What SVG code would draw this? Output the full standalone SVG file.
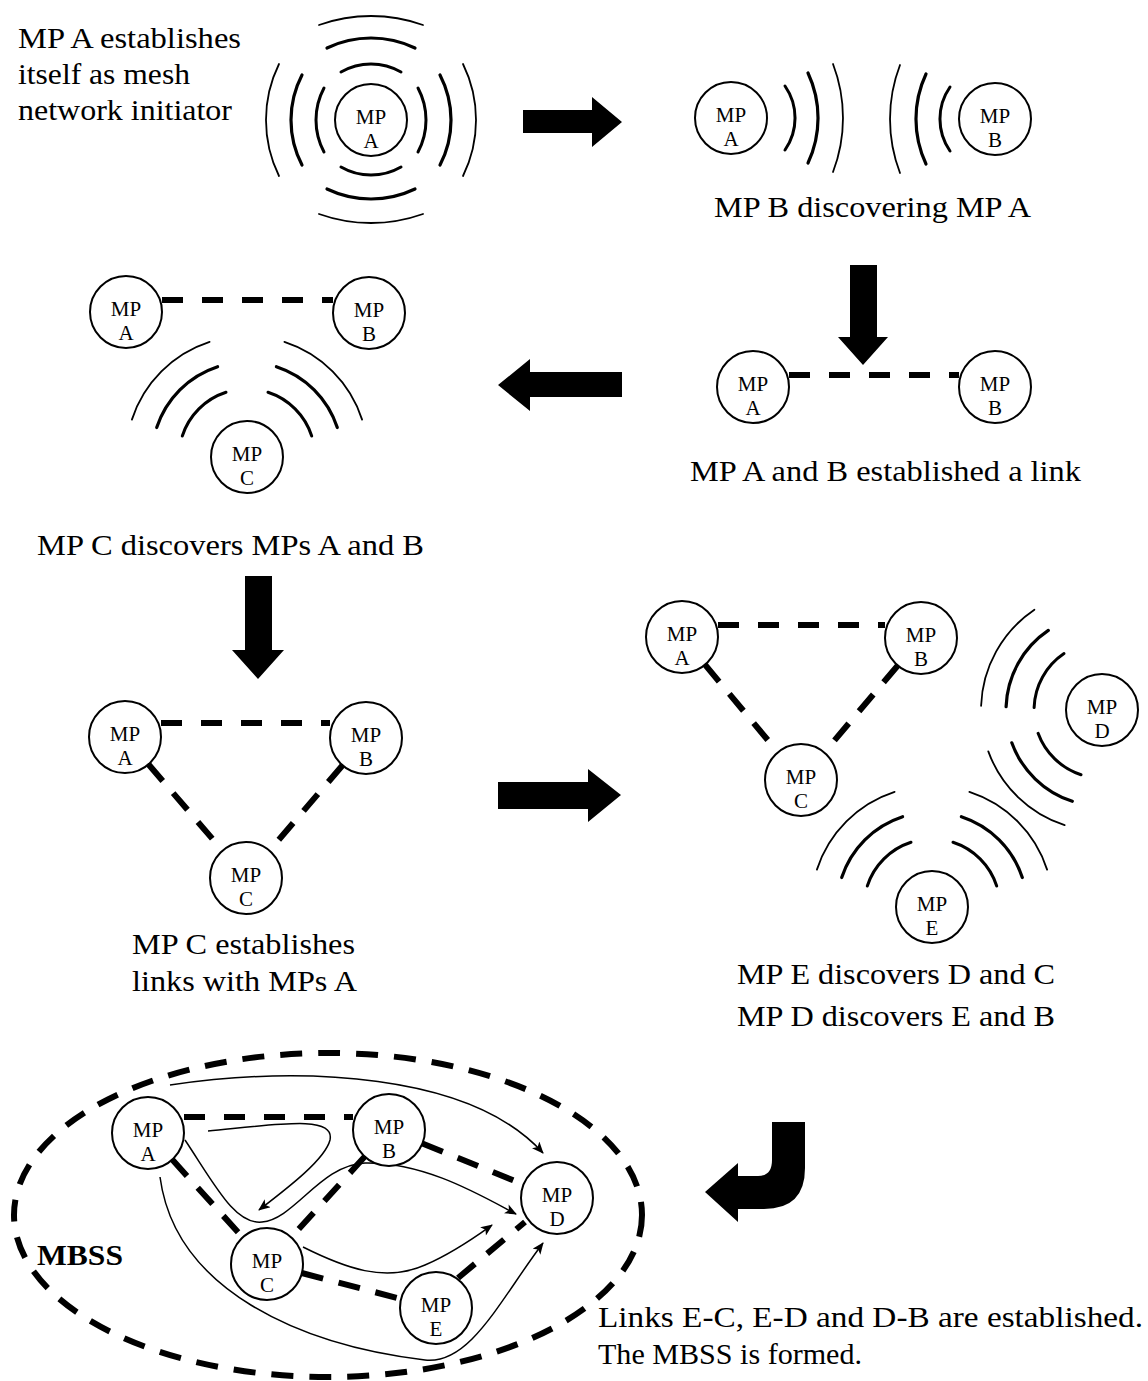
<svg xmlns="http://www.w3.org/2000/svg" width="1148" height="1381" viewBox="0 0 1148 1381">
<style>
.node circle{fill:#fff;stroke:#000;stroke-width:2}
.node text{font-family:"Liberation Serif","Times New Roman",serif;font-size:21px;text-anchor:middle;fill:#000}
.cap{font-family:"Liberation Serif","Times New Roman",serif;font-size:30px;fill:#000}
.w{fill:none;stroke:#000;stroke-linecap:round}
.w1{stroke-width:3}
.w2{stroke-width:3.2}
.w3{stroke-width:1.8}
.link{fill:none;stroke:#000;stroke-width:6;stroke-dasharray:21 19}
.dlink{fill:none;stroke:#000;stroke-width:6;stroke-dasharray:22 16}
.path{fill:none;stroke:#000;stroke-width:1.5}
.big{fill:#000}
</style>
<defs>
<marker id="ah" viewBox="0 0 12 10" refX="11" refY="5" markerWidth="13" markerHeight="10" markerUnits="userSpaceOnUse" orient="auto">
<path d="M0,0 L12,5 L0,10 L3,5 Z" fill="#000"/>
</marker>
</defs>
<rect width="1148" height="1381" fill="#fff"/>

<!-- captions -->
<g id="captions">
<text class="cap" x="18" y="48" textLength="223" lengthAdjust="spacingAndGlyphs">MP A establishes</text>
<text class="cap" x="18" y="84" textLength="172" lengthAdjust="spacingAndGlyphs">itself as mesh</text>
<text class="cap" x="18" y="120" textLength="214" lengthAdjust="spacingAndGlyphs">network initiator</text>
<text class="cap" x="714" y="217" textLength="317" lengthAdjust="spacingAndGlyphs">MP B discovering MP A</text>
<text class="cap" x="690" y="481" textLength="391" lengthAdjust="spacingAndGlyphs">MP A and B established a link</text>
<text class="cap" x="37" y="555" textLength="387" lengthAdjust="spacingAndGlyphs">MP C discovers MPs A and B</text>
<text class="cap" x="132" y="954" textLength="223" lengthAdjust="spacingAndGlyphs">MP C establishes</text>
<text class="cap" x="132" y="991" textLength="225" lengthAdjust="spacingAndGlyphs">links with MPs A</text>
<text class="cap" x="737" y="984" textLength="318" lengthAdjust="spacingAndGlyphs">MP E discovers D and C</text>
<text class="cap" x="737" y="1026" textLength="318" lengthAdjust="spacingAndGlyphs">MP D discovers E and B</text>
<text class="cap" x="598" y="1327" textLength="545" lengthAdjust="spacingAndGlyphs">Links E-C, E-D and D-B are established.</text>
<text class="cap" x="598" y="1364" textLength="264" lengthAdjust="spacingAndGlyphs">The MBSS is formed.</text>
<text class="cap" x="37" y="1265" font-weight="bold" textLength="86" lengthAdjust="spacingAndGlyphs">MBSS</text>
</g>

<!-- radio waves -->
<g id="waves">
<!-- panel 1 around A (371,120) -->
<path class="w w1" d="M324,88 A68,68 0 0 0 324,152"/>
<path class="w w2" d="M302,75 A97.5,97.5 0 0 0 302,165"/>
<path class="w w3" d="M279,64 A127,127 0 0 0 279,176"/>
<path class="w w1" d="M418,88 A68,68 0 0 1 418,152"/>
<path class="w w2" d="M440,75 A97.5,97.5 0 0 1 440,165"/>
<path class="w w3" d="M463,64 A127,127 0 0 1 463,176"/>
<path class="w w1" d="M341,72 A60,60 0 0 1 401,72"/>
<path class="w w2" d="M327,48 A102,102 0 0 1 415,48"/>
<path class="w w3" d="M319,25 A155,155 0 0 1 423,25"/>
<path class="w w1" d="M341,167 A60,60 0 0 0 401,167"/>
<path class="w w2" d="M327,189 A102,102 0 0 0 415,189"/>
<path class="w w3" d="M319,214 A155,155 0 0 0 423,214"/>
<!-- panel 2 -->
<path class="w w1" d="M785,86 A56,56 0 0 1 785,150"/>
<path class="w w2" d="M808,73 A106,106 0 0 1 808,163"/>
<path class="w w3" d="M833,64 A151,151 0 0 1 833,172"/>
<path class="w w1" d="M950,87 A56,56 0 0 0 950,151"/>
<path class="w w2" d="M926,74 A106,106 0 0 0 926,164"/>
<path class="w w3" d="M900,65 A151,151 0 0 0 900,173"/>
<!-- panel 4 around C (247,457) -->
<path class="w w1" d="M182.3,436 A68,68 0 0 1 226,392.3"/>
<path class="w w2" d="M156.7,427.6 A95,95 0 0 1 217.6,366.7"/>
<path class="w w3" d="M131.9,419.6 A121,121 0 0 1 209.6,341.9"/>
<path class="w w1" d="M268,392.3 A68,68 0 0 1 311.7,436"/>
<path class="w w2" d="M276.4,366.7 A95,95 0 0 1 337.3,427.6"/>
<path class="w w3" d="M284.4,341.9 A121,121 0 0 1 362.1,419.6"/>
<!-- panel 6 around E (932,907) -->
<path class="w w1" d="M867.3,886 A68,68 0 0 1 911,842.3"/>
<path class="w w2" d="M841.7,877.6 A95,95 0 0 1 902.6,816.7"/>
<path class="w w3" d="M816.9,869.6 A121,121 0 0 1 894.6,791.9"/>
<path class="w w1" d="M953,842.3 A68,68 0 0 1 996.7,886"/>
<path class="w w2" d="M961.4,816.7 A95,95 0 0 1 1022.3,877.6"/>
<path class="w w3" d="M969.4,791.9 A121,121 0 0 1 1047.1,869.6"/>
<!-- panel 6 around D (1102,710) -->
<path class="w w1" d="M1034.1,707.6 A68,68 0 0 1 1064,653.6"/>
<path class="w w2" d="M1006.1,706.6 A96,96 0 0 1 1048.3,630.4"/>
<path class="w w3" d="M981.1,705.8 A121,121 0 0 1 1034.4,609.7"/>
<path class="w w1" d="M1081,774.7 A68,68 0 0 1 1038.1,733.3"/>
<path class="w w2" d="M1072.3,801.3 A96,96 0 0 1 1011.8,742.8"/>
<path class="w w3" d="M1064.6,825.1 A121,121 0 0 1 988.3,751.4"/>
</g>

<!-- connectors -->
<g id="connectors">
<line class="link" x1="789" y1="375" x2="959" y2="375"/>
<line class="link" x1="162" y1="300" x2="333" y2="300"/>
<line class="link" x1="161" y1="723" x2="330" y2="723"/>
<line class="dlink" x1="148.4" y1="764.3" x2="222.6" y2="850.7"/>
<line class="dlink" x1="342.6" y1="765.3" x2="269.4" y2="850.7"/>
<line class="link" x1="718" y1="625" x2="885" y2="625"/>
<line class="dlink" x1="705" y1="664.7" x2="778" y2="752.3"/>
<line class="dlink" x1="897.8" y1="665.5" x2="824.2" y2="752.5"/>
<!-- MBSS -->
<ellipse class="dlink" cx="328" cy="1215" rx="314" ry="162"/>
<line class="link" x1="184" y1="1117" x2="353" y2="1117"/>
<line class="dlink" x1="422.4" y1="1143.5" x2="523.6" y2="1184.5"/>
<line class="dlink" x1="172.2" y1="1159.6" x2="242.8" y2="1237.4"/>
<line class="dlink" x1="364.8" y1="1156.6" x2="291.2" y2="1237.4"/>
<line class="dlink" x1="301.8" y1="1273" x2="401.2" y2="1299"/>
<line class="dlink" x1="458" y1="1278" x2="525" y2="1222"/>
<path class="path" marker-end="url(#ah)" d="M170,1085 C300,1066 470,1072 543,1153"/>
<path class="path" marker-end="url(#ah)" d="M208,1131 C280,1124 335,1115 330,1140 C325,1160 285,1190 259,1210"/>
<path class="path" marker-end="url(#ah)" d="M185,1140 C215,1185 235,1225 262,1222 C295,1219 320,1165 365,1163 C425,1162 480,1195 516,1214"/>
<path class="path" marker-end="url(#ah)" d="M303,1247 C345,1268 385,1283 425,1265 C455,1252 478,1235 492,1225"/>
<path class="path" marker-end="url(#ah)" d="M160,1177 C175,1290 300,1345 425,1360 C470,1365 500,1300 543,1243"/>
</g>

<!-- step arrows -->
<g id="step-arrows">
<polygon class="big" points="523,110 592,110 592,97 622,122 592,147 592,133 523,133"/>
<polygon class="big" points="850,265 877,265 877,337 888,337 863,365 838,337 850,337"/>
<polygon class="big" points="622,372 530,372 530,359 498,385 530,411 530,397 622,397"/>
<polygon class="big" points="245,576 272,576 272,650 284,650 258,679 232,650 245,650"/>
<polygon class="big" points="498,782 588,782 588,769 621,795 588,822 588,809 498,809"/>
<path class="big" d="M772,1122 L805,1122 L805,1168 Q805,1209 764,1209 L738,1209 L738,1222 L705,1192 L738,1163 L738,1176 L758,1176 Q772,1176 772,1160 Z"/>
</g>

<!-- nodes -->
<g id="p1-A" class="node"><circle cx="371" cy="120" r="36"/><text x="371" y="124">MP</text><text x="371" y="148">A</text></g>
<g id="p2-A" class="node"><circle cx="731" cy="118" r="36"/><text x="731" y="122">MP</text><text x="731" y="146">A</text></g>
<g id="p2-B" class="node"><circle cx="995" cy="119" r="36"/><text x="995" y="123">MP</text><text x="995" y="147">B</text></g>
<g id="p3-A" class="node"><circle cx="753" cy="387" r="36"/><text x="753" y="391">MP</text><text x="753" y="415">A</text></g>
<g id="p3-B" class="node"><circle cx="995" cy="387" r="36"/><text x="995" y="391">MP</text><text x="995" y="415">B</text></g>
<g id="p4-A" class="node"><circle cx="126" cy="312" r="36"/><text x="126" y="316">MP</text><text x="126" y="340">A</text></g>
<g id="p4-B" class="node"><circle cx="369" cy="313" r="36"/><text x="369" y="317">MP</text><text x="369" y="341">B</text></g>
<g id="p4-C" class="node"><circle cx="247" cy="457" r="36"/><text x="247" y="461">MP</text><text x="247" y="485">C</text></g>
<g id="p5-A" class="node"><circle cx="125" cy="737" r="36"/><text x="125" y="741">MP</text><text x="125" y="765">A</text></g>
<g id="p5-B" class="node"><circle cx="366" cy="738" r="36"/><text x="366" y="742">MP</text><text x="366" y="766">B</text></g>
<g id="p5-C" class="node"><circle cx="246" cy="878" r="36"/><text x="246" y="882">MP</text><text x="246" y="906">C</text></g>
<g id="p6-A" class="node"><circle cx="682" cy="637" r="36"/><text x="682" y="641">MP</text><text x="682" y="665">A</text></g>
<g id="p6-B" class="node"><circle cx="921" cy="638" r="36"/><text x="921" y="642">MP</text><text x="921" y="666">B</text></g>
<g id="p6-C" class="node"><circle cx="801" cy="780" r="36"/><text x="801" y="784">MP</text><text x="801" y="808">C</text></g>
<g id="p6-D" class="node"><circle cx="1102" cy="710" r="36"/><text x="1102" y="714">MP</text><text x="1102" y="738">D</text></g>
<g id="p6-E" class="node"><circle cx="932" cy="907" r="36"/><text x="932" y="911">MP</text><text x="932" y="935">E</text></g>
<g id="p7-A" class="node"><circle cx="148" cy="1133" r="36"/><text x="148" y="1137">MP</text><text x="148" y="1161">A</text></g>
<g id="p7-B" class="node"><circle cx="389" cy="1130" r="36"/><text x="389" y="1134">MP</text><text x="389" y="1158">B</text></g>
<g id="p7-C" class="node"><circle cx="267" cy="1264" r="36"/><text x="267" y="1268">MP</text><text x="267" y="1292">C</text></g>
<g id="p7-D" class="node"><circle cx="557" cy="1198" r="36"/><text x="557" y="1202">MP</text><text x="557" y="1226">D</text></g>
<g id="p7-E" class="node"><circle cx="436" cy="1308" r="36"/><text x="436" y="1312">MP</text><text x="436" y="1336">E</text></g>
</svg>
